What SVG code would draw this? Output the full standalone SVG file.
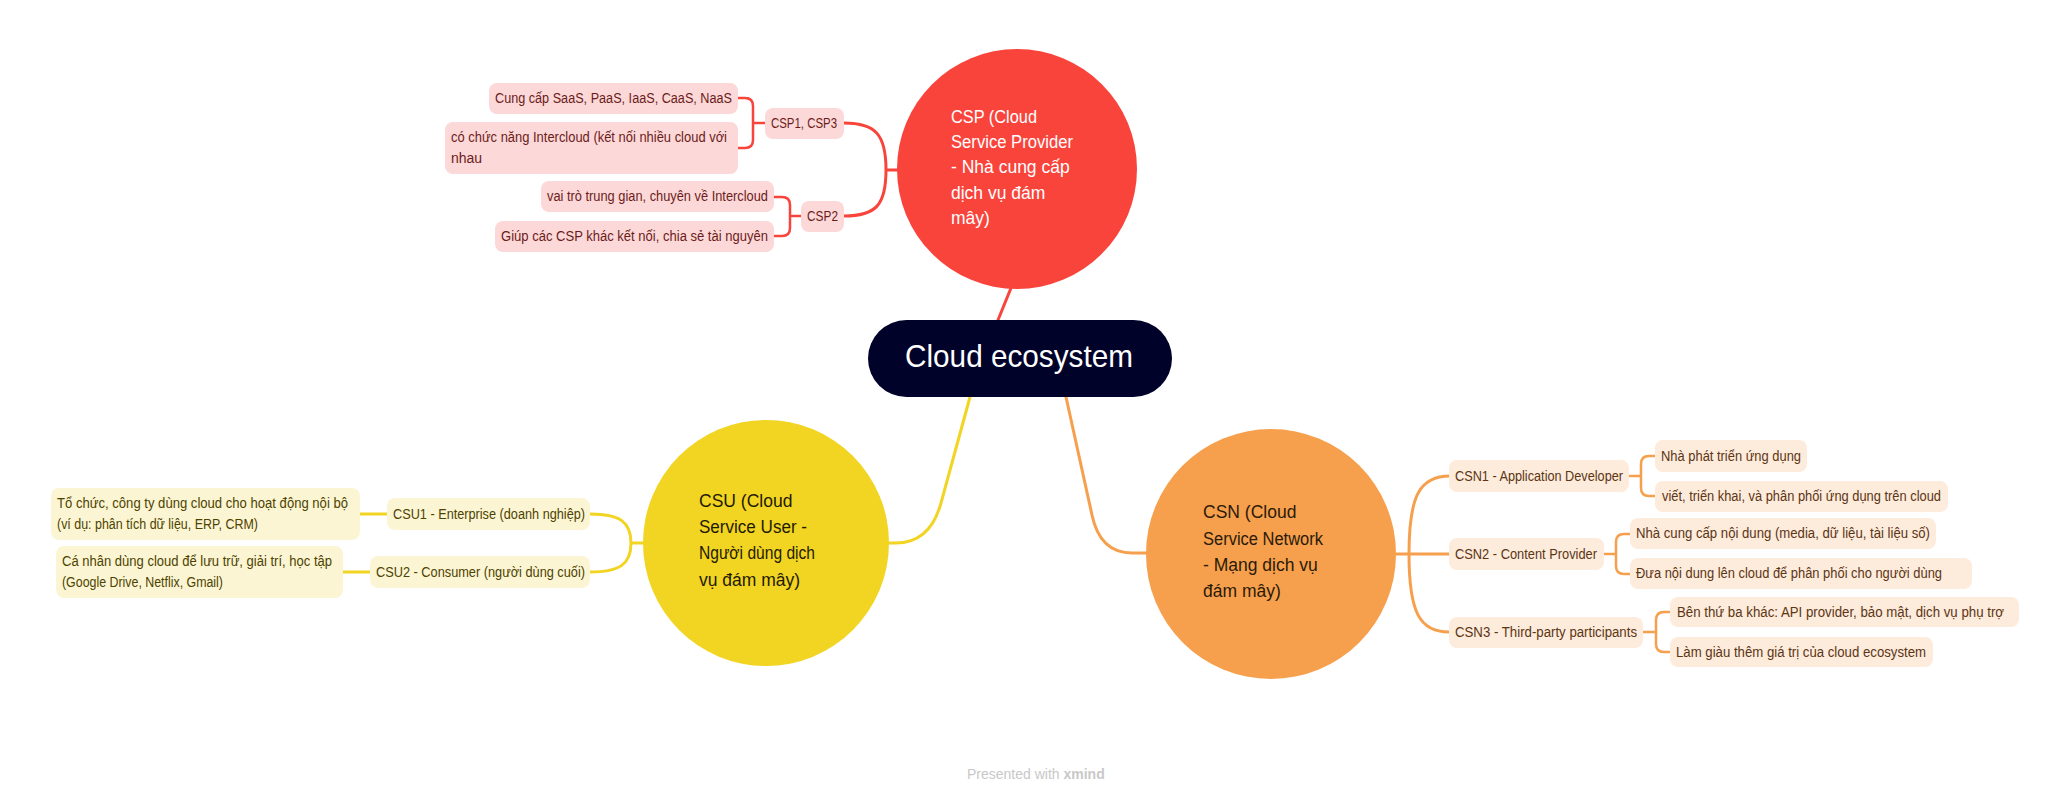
<svg xmlns="http://www.w3.org/2000/svg" width="2070" height="800" viewBox="0 0 2070 800">
<style>
text{font-family:"Liberation Sans","Noto Sans",sans-serif;}
.t{font-size:14px;}
.c{font-size:17.5px;}
.rp{fill:#fdd8d8;}
.ry{fill:#fcf5d3;}
.ro{fill:#fdebdc;}
.tp{fill:#6b1c1a;}
.ty{fill:#4d4300;}
.to{fill:#5c3513;}
.lr{fill:none;stroke:#f9443c;stroke-linecap:round;}
.ly{fill:none;stroke:#f2d422;stroke-linecap:round;}
.lo{fill:none;stroke:#f6a04d;stroke-linecap:round;}
.w3{stroke-width:3;}
.w2{stroke-width:2.5;}
</style>
<rect width="2070" height="800" fill="#ffffff"/>
<g id="connectors">
<path class="lr w3" d="M1011,288 L998,320"/>
<path class="lr w3" d="M897,170 L886,170 M886,170 C886,135 876,123 844,123 M886,170 C886,205 876,216 844,216"/>
<path class="lr w2" d="M765,123 L753,123 M738,98 L745,98 Q753,98 753,106 L753,140 Q753,148 745,148 L738,148"/>
<path class="lr w2" d="M801,216 L790,216 M774,197 L782,197 Q790,197 790,205 L790,228 Q790,236 782,236 L774,236"/>
<path class="ly w3" d="M970,397 L941,503 Q930,543 896,543 L889,543"/>
<path class="ly w3" d="M643,543 L631,543 M631,543 C631,522 620,514 590,514 M631,543 C631,564 620,572 590,572"/>
<path class="ly w3" d="M387,514 L360,514 M370,572 L343,572"/>
<path class="lo w3" d="M1066,397 L1092,515 Q1100,553 1132,553 L1146,553"/>
<path class="lo w3" d="M1396,554 L1409,554 M1409,554 C1409,495 1420,476 1450,476 M1409,554 L1449,554 M1409,554 C1409,613 1420,632 1449,632"/>
<path class="lo w2" d="M1629,476 L1641,476 M1655,456 L1649,456 Q1641,456 1641,464 L1641,488 Q1641,496 1649,496 L1655,496"/>
<path class="lo w2" d="M1604,554 L1616,554 M1630,534 L1624,534 Q1616,534 1616,542 L1616,566 Q1616,574 1624,574 L1630,574"/>
<path class="lo w2" d="M1643,632 L1656,632 M1670,612 L1664,612 Q1656,612 1656,620 L1656,644 Q1656,652 1664,652 L1670,652"/>
</g>
<g id="central">
<rect x="868" y="320" width="304" height="77" rx="38.5" fill="#000229"/>
<text x="905" y="367" font-size="32" fill="#ffffff" textLength="228" lengthAdjust="spacingAndGlyphs">Cloud ecosystem</text>
</g>
<g id="csp">
<circle cx="1017" cy="169" r="120" fill="#f9443c"/>
<text class="c" fill="#ffffff"><tspan x="951" y="123" textLength="86" lengthAdjust="spacingAndGlyphs">CSP (Cloud</tspan><tspan x="951" y="148" textLength="122" lengthAdjust="spacingAndGlyphs">Service Provider</tspan><tspan x="951" y="173">- Nhà cung cấp</tspan><tspan x="951" y="199">dịch vụ đám</tspan><tspan x="951" y="224">mây)</tspan></text>
</g>
<g id="csp13">
<rect class="rp" x="765" y="108" width="79" height="31" rx="8"/>
<text class="t tp" x="771" y="128" textLength="66" lengthAdjust="spacingAndGlyphs">CSP1, CSP3</text>
</g>
<g id="csp13-a">
<rect class="rp" x="489" y="83" width="249" height="31" rx="8"/>
<text class="t tp" x="495" y="103" textLength="237" lengthAdjust="spacingAndGlyphs">Cung cấp SaaS, PaaS, IaaS, CaaS, NaaS</text>
</g>
<g id="csp13-b">
<rect class="rp" x="445" y="122" width="293" height="52" rx="8"/>
<text class="t tp"><tspan x="451" y="142" textLength="276" lengthAdjust="spacingAndGlyphs">có chức năng Intercloud (kết nối nhiều cloud với</tspan><tspan x="451" y="163">nhau</tspan></text>
</g>
<g id="csp2">
<rect class="rp" x="801" y="201" width="43" height="31" rx="8"/>
<text class="t tp" x="807" y="221" textLength="31" lengthAdjust="spacingAndGlyphs">CSP2</text>
</g>
<g id="csp2-a">
<rect class="rp" x="541" y="181" width="233" height="31" rx="8"/>
<text class="t tp" x="547" y="201" textLength="221" lengthAdjust="spacingAndGlyphs">vai trò trung gian, chuyên về Intercloud</text>
</g>
<g id="csp2-b">
<rect class="rp" x="495" y="221" width="279" height="31" rx="8"/>
<text class="t tp" x="501" y="241" textLength="267" lengthAdjust="spacingAndGlyphs">Giúp các CSP khác kết nối, chia sẻ tài nguyên</text>
</g>
<g id="csu">
<circle cx="766" cy="543" r="123" fill="#f2d422"/>
<text class="c" fill="#1f1a00"><tspan x="699" y="507">CSU (Cloud</tspan><tspan x="699" y="533" textLength="108" lengthAdjust="spacingAndGlyphs">Service User -</tspan><tspan x="699" y="559" textLength="116" lengthAdjust="spacingAndGlyphs">Người dùng dịch</tspan><tspan x="699" y="586">vụ đám mây)</tspan></text>
</g>
<g id="csu1">
<rect class="ry" x="387" y="498" width="203" height="32" rx="8"/>
<text class="t ty" x="393" y="519" textLength="192" lengthAdjust="spacingAndGlyphs">CSU1 - Enterprise (doanh nghiệp)</text>
</g>
<g id="csu1-a">
<rect class="ry" x="51" y="488" width="309" height="52" rx="8"/>
<text class="t ty"><tspan x="57" y="508" textLength="291" lengthAdjust="spacingAndGlyphs">Tổ chức, công ty dùng cloud cho hoạt động nội bộ</tspan><tspan x="57" y="529" textLength="201" lengthAdjust="spacingAndGlyphs">(ví dụ: phân tích dữ liệu, ERP, CRM)</tspan></text>
</g>
<g id="csu2">
<rect class="ry" x="370" y="556" width="220" height="32" rx="8"/>
<text class="t ty" x="376" y="577" textLength="209" lengthAdjust="spacingAndGlyphs">CSU2 - Consumer (người dùng cuối)</text>
</g>
<g id="csu2-a">
<rect class="ry" x="56" y="546" width="287" height="52" rx="8"/>
<text class="t ty"><tspan x="62" y="566" textLength="270" lengthAdjust="spacingAndGlyphs">Cá nhân dùng cloud để lưu trữ, giải trí, học tập</tspan><tspan x="62" y="587" textLength="161" lengthAdjust="spacingAndGlyphs">(Google Drive, Netflix, Gmail)</tspan></text>
</g>
<g id="csn">
<circle cx="1271" cy="554" r="125" fill="#f6a04d"/>
<text class="c" fill="#2b1a08"><tspan x="1203" y="518">CSN (Cloud</tspan><tspan x="1203" y="545" textLength="120" lengthAdjust="spacingAndGlyphs">Service Network</tspan><tspan x="1203" y="571">- Mạng dịch vụ</tspan><tspan x="1203" y="597">đám mây)</tspan></text>
</g>
<g id="csn1">
<rect class="ro" x="1449" y="460" width="180" height="32" rx="8"/>
<text class="t to" x="1455" y="481" textLength="168" lengthAdjust="spacingAndGlyphs">CSN1 - Application Developer</text>
</g>
<g id="csn1-a">
<rect class="ro" x="1655" y="440" width="152" height="32" rx="8"/>
<text class="t to" x="1661" y="461" textLength="140" lengthAdjust="spacingAndGlyphs">Nhà phát triển ứng dụng</text>
</g>
<g id="csn1-b">
<rect class="ro" x="1655" y="481" width="293" height="31" rx="8"/>
<text class="t to" x="1662" y="501" textLength="279" lengthAdjust="spacingAndGlyphs">viết, triển khai, và phân phối ứng dụng trên cloud</text>
</g>
<g id="csn2">
<rect class="ro" x="1449" y="538" width="155" height="32" rx="8"/>
<text class="t to" x="1455" y="559" textLength="142" lengthAdjust="spacingAndGlyphs">CSN2 - Content Provider</text>
</g>
<g id="csn2-a">
<rect class="ro" x="1630" y="518" width="306" height="31" rx="8"/>
<text class="t to" x="1636" y="538" textLength="294" lengthAdjust="spacingAndGlyphs">Nhà cung cấp nội dung (media, dữ liệu, tài liệu số)</text>
</g>
<g id="csn2-b">
<rect class="ro" x="1630" y="558" width="342" height="31" rx="8"/>
<text class="t to" x="1636" y="578" textLength="306" lengthAdjust="spacingAndGlyphs">Đưa nội dung lên cloud để phân phối cho người dùng</text>
</g>
<g id="csn3">
<rect class="ro" x="1449" y="617" width="194" height="31" rx="8"/>
<text class="t to" x="1455" y="637" textLength="182" lengthAdjust="spacingAndGlyphs">CSN3 - Third-party participants</text>
</g>
<g id="csn3-a">
<rect class="ro" x="1670" y="597" width="349" height="30" rx="8"/>
<text class="t to" x="1677" y="617" textLength="327" lengthAdjust="spacingAndGlyphs">Bên thứ ba khác: API provider, bảo mật, dịch vụ phụ trợ</text>
</g>
<g id="csn3-b">
<rect class="ro" x="1670" y="637" width="263" height="30" rx="8"/>
<text class="t to" x="1676" y="657" textLength="250" lengthAdjust="spacingAndGlyphs">Làm giàu thêm giá trị của cloud ecosystem</text>
</g>
<text x="967" y="779" font-size="14" fill="#c8c8c8">Presented with <tspan font-weight="bold">xmind</tspan></text>
</svg>
